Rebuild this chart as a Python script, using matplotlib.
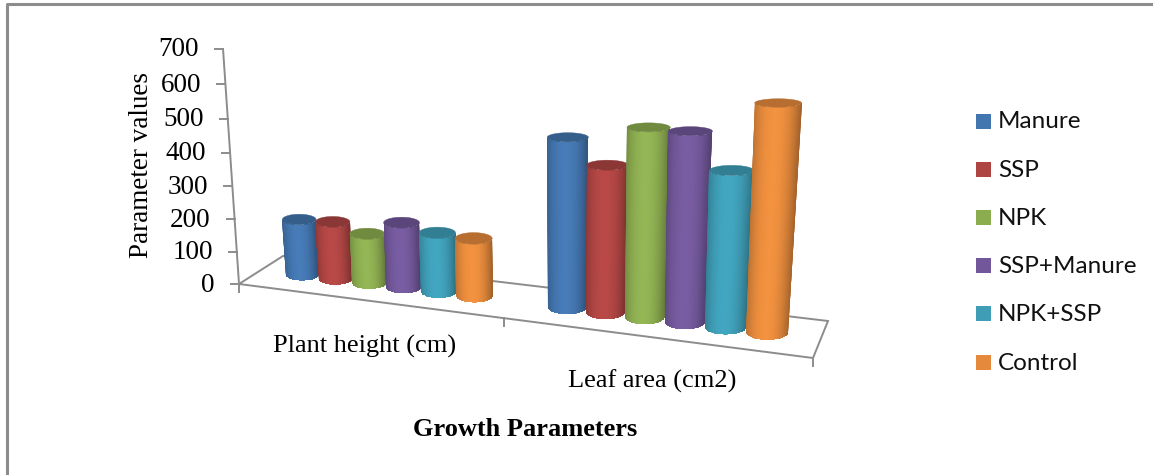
import numpy as np
import matplotlib
matplotlib.use("Agg")
import matplotlib.pyplot as plt
from matplotlib.patches import Polygon, Rectangle

categories = ["Plant height (cm)", "Leaf area (cm2)"]
series_names = ["Manure", "SSP", "NPK", "SSP+Manure", "NPK+SSP", "Control"]
manure = [173, 488]
ssp = [177, 420]
npk = [152, 532]
ssp_manure = [197, 530]
npk_ssp = [178, 434]
control = [173, 620]
series_values = [manure, ssp, npk, ssp_manure, npk_ssp, control]
series_colors = ["#4375AE", "#AE4543", "#8CAC50", "#72589A", "#3F9DB6", "#E58A3C"]
y_ticks = [0, 100, 200, 300, 400, 500, 600, 700]
y_max = 700
gap_slots = 1.5

W, H = 1153, 475
fig = plt.figure(figsize=(W / 100, H / 100), dpi=100)
ax = fig.add_axes([0, 0, 1, 1])
ax.axis("off")


def floor_homography(corners):
    A, b = [], []
    for (u, w), (x, y) in zip([(0, 0), (1, 0), (1, 1), (0, 1)], corners):
        A.append([u, w, 1, 0, 0, 0, -u * x, -w * x])
        A.append([0, 0, 0, u, w, 1, -u * y, -w * y])
        b += [x, y]
    return np.append(np.linalg.solve(np.array(A, float), np.array(b, float)), 1).reshape(3, 3)


floor_corners = [(239, 284), (813, 358), (828, 321), (283, 256)]
Hm = floor_homography(floor_corners)
vanish = np.array([552.0, 4893.0, 1.0])
axis_top = np.array([223.0, 49.0])
o = Hm @ np.array([0, 0, 1.0])
a = (axis_top[1] * o[2] - o[1]) / (vanish[1] - axis_top[1] * vanish[2])
Vc = a * vanish


def project(u, w, z):
    u, w, z = np.broadcast_arrays(np.asarray(u, float), np.asarray(w, float), np.asarray(z, float))
    p = np.stack([u, w, np.ones_like(u)], -1) @ Hm.T + (z / y_max)[..., None] * Vc
    return p[..., 0] / p[..., 2], p[..., 1] / p[..., 2]


gray = "#8C8C8C"
fx, fy = project(np.array([0, 1, 1, 0]), np.array([0, 0, 1, 1]), 0)
ax.add_patch(Polygon(np.c_[fx, fy], closed=True, fc="white", ec=gray, lw=1.4, zorder=1))
xa, ya = project([0, 0], [0, 0], [0, y_max])
ax.plot(xa, ya, color=gray, lw=1.4, zorder=1)
for t in y_ticks:
    tx, ty = project(0, 0, t)
    ax.plot([tx - 8, tx], [ty, ty], color=gray, lw=1.4, zorder=1)
    ax.text(tx - 24, ty + 1, str(t), ha="right", va="center", family="Liberation Serif",
            fontsize=19.5, color="black")
for u in [0, 0.5, 1]:
    tx, ty = project(u, 0, 0)
    ax.plot([tx, tx], [ty, ty + 8], color=gray, lw=1.4, zorder=1)

slots = len(series_names) + gap_slots
ru = 1.0 / slots / 4
depth = 0.5
t_grad = np.linspace(-1.03, 1.03, 48)


def side_gradient(col):
    c = np.array(matplotlib.colors.to_rgb(col))
    f = 0.78 + 0.28 * (1 - np.abs(t_grad + 0.1) ** 2.2)
    row = np.clip(c[None, :] * f[:, None], 0, 1)
    return np.stack([row, row])


for j, (name, vals, col) in enumerate(zip(series_names, series_values, series_colors)):
    for i, v in enumerate(vals):
        uc = (i + (gap_slots / 2 + j + 0.5) / slots) / 2
        bx, by = project(uc, depth, 0)
        tx, ty = project(uc, depth, v)
        xl, _ = project(uc - ru, depth, 0)
        xr, _ = project(uc + ru, depth, 0)
        hw_b = (xr - xl) / 2
        h_px = by - ty
        hw_t = hw_b * (1 + h_px / 2000)
        eh_b = 0.36 * hw_b
        eh_t = eh_b * (1 - h_px / 520)
        ang = np.linspace(0, np.pi, 40)
        lower = np.c_[bx - hw_b * np.cos(ang), by + eh_b * np.sin(ang)]
        upper = np.c_[tx + hw_t * np.cos(ang), ty + eh_t * np.sin(ang)]
        z0 = 3 + j * 0.1 + i * 2
        body = Polygon(np.vstack([lower, upper]), closed=True, fc="none", ec="none", zorder=z0)
        ax.add_patch(body)
        X = np.stack([bx + hw_b * t_grad, tx + hw_t * t_grad])
        Y = np.stack([np.full_like(t_grad, by + eh_b + 1), np.full_like(t_grad, ty - 1)])
        mesh = ax.pcolormesh(X, Y, side_gradient(col), shading="gouraud", zorder=z0 + 0.01)
        mesh.set_clip_path(body)
        th = np.linspace(0, 2 * np.pi, 80)
        c = np.array(matplotlib.colors.to_rgb(col)) * 0.80
        ax.add_patch(Polygon(np.c_[tx + hw_t * np.cos(th), ty + eh_t * np.sin(th)], closed=True,
                             fc=tuple(c), ec=tuple(c), lw=0.3, zorder=z0 + 0.02))

serif = dict(family="Liberation Serif", color="black", ha="center", va="center")
ax.text(141, 165, "Parameter values", rotation=90, fontsize=19.5, **serif)
ax.text(365, 346.5, categories[0], fontsize=19, **serif)
ax.text(652, 381.5, categories[1], fontsize=19, **serif)
ax.text(525, 429.5, "Growth Parameters", fontsize=19, fontweight="bold", **serif)

for k, (name, col) in enumerate(zip(series_names, series_colors)):
    yc = 121 + k * 48.2
    ax.add_patch(Rectangle((976, yc - 7.5), 15, 15, fc=col, ec="none", zorder=2))
    ax.text(998, yc + 1, name, ha="left", va="center", family="Lato", fontsize=17.5, color="#111111")

ax.plot([7, 7, 1153], [475, 4, 4], color="#8C8C8C", lw=2.2, zorder=0)
ax.set_xlim(0, W)
ax.set_ylim(H, 0)
fig.savefig("out.png", dpi=100)
